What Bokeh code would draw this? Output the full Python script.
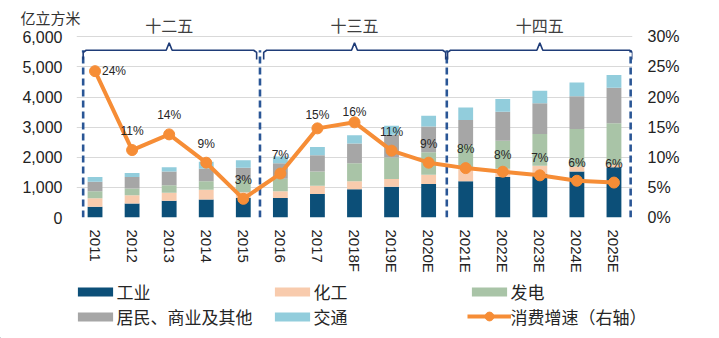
from bokeh.plotting import figure
from bokeh.layouts import column
from bokeh.models import (Range1d, LinearAxis, FixedTicker, NumeralTickFormatter,
                          PrintfTickFormatter, ColumnDataSource, Legend, LegendItem)
from bokeh.core.properties import value
from bokeh.embed import file_html
from bokeh.resources import INLINE

# ---------------- data ----------------
years = ["2011", "2012", "2013", "2014", "2015", "2016", "2017", "2018F",
         "2019E", "2020E", "2021E", "2022E", "2023E", "2024E", "2025E"]
industry = [355, 465, 560, 595, 650, 650, 780, 935, 1025, 1115, 1200, 1345, 1450, 1530, 1670]
chemical = [285, 275, 265, 330, 190, 220, 275, 265, 255, 305, 400, 275, 270, 165, 75]
power = [230, 220, 245, 275, 410, 420, 475, 605, 715, 750, 800, 925, 1050, 1245, 1385]
residential = [320, 385, 460, 420, 400, 515, 540, 650, 750, 850, 840, 970, 1025, 1090, 1180]
transport = [155, 135, 135, 230, 250, 220, 275, 275, 300, 360, 410, 420, 415, 450, 420]
growth = [24.3, 11.2, 13.8, 9.1, 3.1, 7.3, 14.8, 15.8, 11.1, 9.1, 8.2, 7.6, 7.0, 6.1, 5.8]
series_names = ["工业", "化工", "发电", "居民、商业及其他", "交通"]
line_name = "消费增速（右轴）"
periods = ["十二五", "十三五", "十四五"]
period_first = [0, 5, 10]
period_last = [4, 9, 14]
unit_label = "亿立方米"
left_ticks = [0, 1000, 2000, 3000, 4000, 5000, 6000]
right_ticks = [0, 5, 10, 15, 20, 25, 30]

# ---------------- styles ----------------
colors = ["#0c4f78", "#f8cbad", "#a9c4a7", "#a6a6a6", "#92cddc"]
orange = "#f68d36"
navy_line = "#1f3c78"
dash_color = "#2a5696"
NUM_FONT = "Liberation Sans"
CJK_FONT = "Noto Sans CJK SC"
Y_TOP = 7040
UNIT_Y = 6645
dividers = [-0.32, 4.45, 9.49, 14.45]
bracket_start = [-0.32, 4.55, 9.51]
bracket_end = [4.36, 9.46, 14.5]
label_dx = [19] + [0] * 14
label_dy = [0, -19, -19, -19, -19, -19, -13, -10, -19, -19, -19, -17, -17, -18, -19]

x = list(range(len(years)))
keys = ["industry", "chemical", "power", "residential", "transport"]
src = ColumnDataSource(dict(x=x, industry=industry, chemical=chemical, power=power,
                            residential=residential, transport=transport))

p = figure(width=719, height=275, output_backend="svg", toolbar_location=None,
           x_range=Range1d(-0.5, 14.5), y_range=Range1d(0, Y_TOP),
           min_border_left=76, min_border_right=87, min_border_top=5, min_border_bottom=57)
p.frame_align = False
p.extra_y_ranges = {"pct": Range1d(0, Y_TOP / 200.0)}
p.outline_line_color = None
p.background_fill_color = "white"
p.border_fill_color = "white"

# grid
p.xgrid.visible = False
p.ygrid.ticker = FixedTicker(ticks=left_ticks)
p.ygrid.grid_line_color = "#d9d9d9"
p.ygrid.grid_line_width = 1


def plain(ax):
    ax.axis_line_color = None
    ax.major_tick_line_color = None
    ax.minor_tick_line_color = None
    ax.major_tick_out = 0
    ax.major_tick_in = 0
    ax.minor_tick_out = 0
    ax.minor_tick_in = 0


# left axis
ya = p.yaxis[0]
ya.ticker = FixedTicker(ticks=left_ticks)
ya.formatter = NumeralTickFormatter(format="0,0")
plain(ya)
ya.major_label_text_font = NUM_FONT
ya.major_label_text_font_size = "16px"
ya.major_label_text_color = "#222222"
ya.major_label_standoff = 14

# unit text as a one-tick outer axis
ua = LinearAxis(ticker=FixedTicker(ticks=[UNIT_Y]), major_label_overrides={UNIT_Y: unit_label})
plain(ua)
ua.major_label_text_font = CJK_FONT
ua.major_label_text_font_size = "15px"
ua.major_label_text_color = "#333333"
ua.major_label_standoff = -61
p.add_layout(ua, "left")

# right axis
ra = LinearAxis(y_range_name="pct", ticker=FixedTicker(ticks=right_ticks),
                formatter=PrintfTickFormatter(format="%d%%"))
plain(ra)
ra.major_label_text_font = NUM_FONT
ra.major_label_text_font_size = "16px"
ra.major_label_text_color = "#222222"
ra.major_label_standoff = 15
p.add_layout(ra, "right")

# bottom axis
xa = p.xaxis[0]
xa.ticker = FixedTicker(ticks=x)
xa.major_label_overrides = {i: y for i, y in enumerate(years)}
xa.major_label_orientation = "vertical"
plain(xa)
xa.major_label_text_font = NUM_FONT
xa.major_label_text_font_size = "15px"
xa.major_label_text_color = "#222222"
xa.major_label_standoff = 12

# bars
bars = p.vbar_stack(keys, x="x", width=0.4, source=src, fill_color=colors, line_color=None)

# dividers and brackets
p.segment(x0=dividers, y0=[0] * 4, x1=dividers, y1=[5554] * 4,
          line_color=dash_color, line_width=2.6, line_dash="7 4")
xs, ys = [], []
for s, e, f, l in zip(bracket_start, bracket_end, period_first, period_last):
    c = (f + l) / 2.0
    d = 0.08
    xs.append([s, s, s + d, c - d, c, c + d, e - d, e, e])
    ys.append([5250, 5480, 5554, 5554, 5800, 5554, 5554, 5480, 5250])
p.multi_line(xs, ys, line_color=navy_line, line_width=1.6)
p.text(x=[(f + l) / 2.0 for f, l in zip(period_first, period_last)], y=[6380] * 3, text=periods,
       text_align="center", text_baseline="middle", text_font=value(CJK_FONT),
       text_font_size="16px", text_color="#404040")

# growth line
lr = p.line(x, growth, y_range_name="pct", line_color=orange, line_width=4)
sr = p.scatter(x, growth, y_range_name="pct", size=11, fill_color=orange, line_color=orange)
p.text(x=x, y=growth, text=["%d%%" % round(g) for g in growth], y_range_name="pct",
       x_offset=label_dx, y_offset=label_dy, text_align="center", text_baseline="middle",
       text_font=value(NUM_FONT), text_font_size="12px", text_color="#262626")

# ---------------- legend strip ----------------
q = figure(width=719, height=63, output_backend="svg", toolbar_location=None,
           x_range=Range1d(0, 719), y_range=Range1d(0, 63),
           x_axis_location=None, y_axis_location=None,
           min_border_left=0, min_border_right=0, min_border_top=0, min_border_bottom=0)
q.frame_align = False
q.outline_line_color = None
q.xgrid.visible = False
q.ygrid.visible = False
q.background_fill_color = "white"
q.border_fill_color = "white"
# legend proxies: one sample each, placed outside the visible range
OFF = -100
dummy_bars = [q.vbar(x=[OFF], top=[1], width=1, fill_color=c, line_color=None) for c in colors]
dummy_line = q.line([OFF, OFF + 1], [1, 1], line_color=orange, line_width=4)
dummy_dot = q.scatter([OFF], [1], size=11, fill_color=orange, line_color=orange)

common = dict(orientation="horizontal", glyph_width=44, label_width=153, label_height=24,
              label_standoff=0, padding=0, margin=0, spacing=0, border_line_color=None,
              background_fill_alpha=0, label_text_font=CJK_FONT,
              label_text_font_size="17px", label_text_color="#262626")
leg_a = Legend(items=[LegendItem(label=n, renderers=[r]) for n, r in zip(series_names, dummy_bars)],
               location=(72.6, 9.5), ncols=3, glyph_height=11, **common)
leg_b = Legend(items=[LegendItem(label=line_name, renderers=[dummy_line, dummy_dot])],
               location=(466.6, 9.5), glyph_height=22, **common)
q.add_layout(leg_a)
q.add_layout(leg_b)

open("out.html", "w").write(file_html(column(p, q, spacing=0), INLINE))
